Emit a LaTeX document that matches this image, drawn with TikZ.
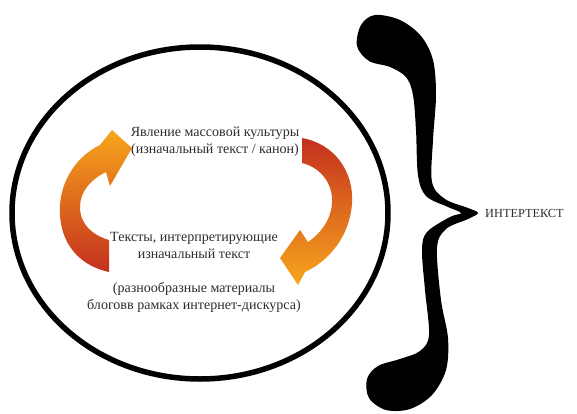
\documentclass[tikz,border=0pt]{standalone}
\usepackage{fontspec}
\setmainfont{Liberation Serif}
\newfontfamily\lblfont{Liberation Serif}
\usepackage{tikz}
\usetikzlibrary{
    positioning,
    calc
}
\definecolor{arrRed}{RGB}{196,48,30}
\definecolor{arrOrange}{RGB}{238,122,32}
\definecolor{arrYellow}{RGB}{247,166,28}
\definecolor{txtGray}{RGB}{45,45,45}
\tikzset{
  lbl/.style  = {align=center, text=txtGray,
                 font=\lblfont\fontsize{12}{14.5}\selectfont, inner sep=0pt},
  big/.style  = {text=txtGray, font=\lblfont\fontsize{10.5}{12}\selectfont,
                 inner sep=0pt},
  ring/.style = {draw=black, line width=5.5*0.03cm}
}

\begin{document}
\begin{tikzpicture}[x=0.03cm, y=-0.03cm]
    \useasboundingbox (0,0) rectangle (577,414);
    % outer ring
    \draw[ring] (200,213) ellipse [x radius=188, y radius=166];
    % left arrow (tail bottom, head top)
    \shade[top color=arrYellow, middle color=arrOrange, bottom color=arrRed]
      (109,272) .. controls (73,264) and (58,236) .. (60,205)
      .. controls (62,177) and (79,155) .. (100,145)
      -- (112,130) -- (132,148) -- (110,186) -- (106,172)
      .. controls (90,180) and (80,192) .. (80,207)
      .. controls (80,224) and (92,235) .. (109,240) -- cycle;
    % right arrow (tail top, head bottom)
    \shade[top color=arrRed, middle color=arrOrange, bottom color=arrYellow]
      (302,138) .. controls (335,144) and (354,172) .. (352,203)
      .. controls (350,236) and (329,261) .. (305,272)
      -- (298,285) -- (280,258) -- (300,230) -- (308,242)
      .. controls (324,231) and (333,215) .. (332,198)
      .. controls (331,181) and (319,167) .. (302,163) -- cycle;
    % texts
    \node[lbl](canon) at (215,142) {Явление массовой культуры\\(изначальный текст / канон)};
    \node[lbl](interp) at (194,245) {Тексты, интерпретирующие\\изначальный текст};
    \node[lbl](blogs) at (194,297) {(разнообразные материалы\\блоговв рамках интернет-дискурса)};
    % brace
    \fill[black] plot[smooth cycle, tension=0.55] coordinates {
      (375,15) (400,20) (421,36) (433,60) (436,95) (433,140) (432,182)
      (445,199) (468,208) (478,213) (468,219) (446,229) (437,248)
      (441,300) (448,338) (446,370) (432,395) (410,409) (386,410)
      (369,398) (367,379) (378,366) (400,359) (420,351) (429,335)
      (425,290) (422,250) (427,232) (450,217) (461,213) (448,207)
      (426,196) (418,175) (416,130) (413,95) (406,77) (390,67)
      (369,61) (357,46) (361,25)};
    \node[big, anchor=west](inter) at (485,213) {ИНТЕРТЕКСТ};
\end{tikzpicture}
\end{document}
